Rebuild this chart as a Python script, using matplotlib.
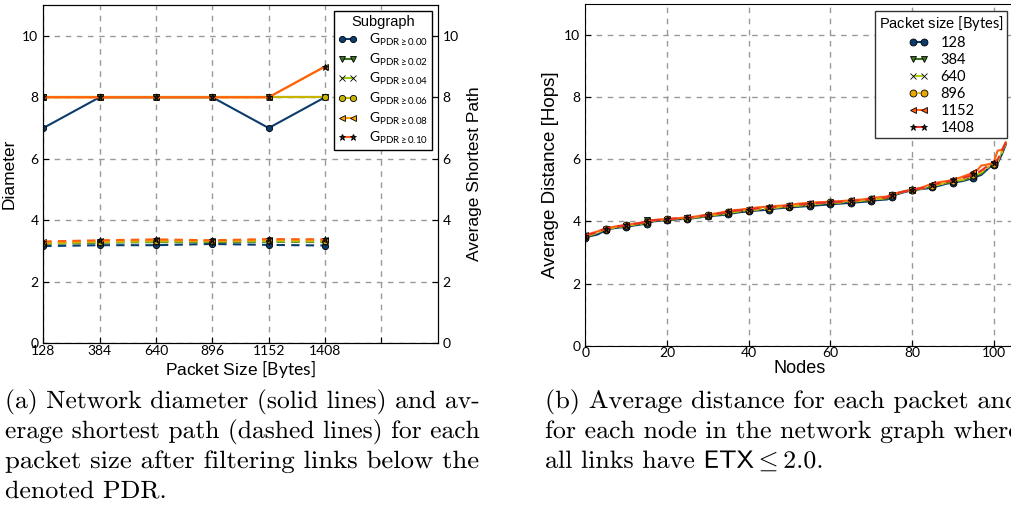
import numpy as np
import matplotlib
matplotlib.use("Agg")
import matplotlib.pyplot as plt
from matplotlib import patheffects
from matplotlib.transforms import Affine2D

plt.rcParams.update({
    "font.family": "Liberation Sans",
    "mathtext.fontset": "custom",
    "mathtext.rm": "Lato",
    "mathtext.it": "Lato:italic",
    "mathtext.bf": "Lato:bold",
    "mathtext.sf": "Lato",
})

# ---------------- data: left panel ----------------
packet_sizes = [128, 384, 640, 896, 1152, 1408]
pdr_thresholds = ["0.00", "0.02", "0.04", "0.06", "0.08", "0.10"]

diam_000 = [7, 8, 8, 8, 7, 8]
diam_002 = [8, 8, 8, 8, 8, 8]
diam_004 = [8, 8, 8, 8, 8, 8]
diam_006 = [8, 8, 8, 8, 8, 8]
diam_008 = [8, 8, 8, 8, 8, 9]
diam_010 = [8, 8, 8, 8, 8, 9]

asp_000 = [3.16, 3.19, 3.19, 3.23, 3.20, 3.18]
asp_002 = [3.23, 3.27, 3.29, 3.29, 3.30, 3.29]
asp_004 = [3.25, 3.29, 3.31, 3.31, 3.32, 3.31]
asp_006 = [3.27, 3.31, 3.34, 3.33, 3.35, 3.34]
asp_008 = [3.29, 3.33, 3.36, 3.34, 3.37, 3.36]
asp_010 = [3.31, 3.35, 3.38, 3.35, 3.39, 3.38]

# ---------------- data: right panel (sorted per-node average distance) ----------------
dist_128 = [3.48, 3.52, 3.55, 3.58, 3.65, 3.72, 3.76, 3.78, 3.80, 3.81,
            3.82, 3.85, 3.87, 3.89, 3.91, 3.93, 3.98, 4.01, 4.02, 4.03,
            4.04, 4.05, 4.06, 4.07, 4.08, 4.09, 4.10, 4.11, 4.13, 4.15,
            4.16, 4.18, 4.19, 4.20, 4.21, 4.23, 4.26, 4.28, 4.30, 4.31,
            4.33, 4.34, 4.35, 4.36, 4.37, 4.38, 4.40, 4.42, 4.43, 4.44,
            4.45, 4.46, 4.47, 4.48, 4.49, 4.50, 4.51, 4.52, 4.53, 4.54,
            4.55, 4.56, 4.57, 4.58, 4.59, 4.60, 4.61, 4.62, 4.63, 4.64,
            4.66, 4.68, 4.69, 4.70, 4.71, 4.80, 4.86, 4.90, 4.94, 4.97,
            5.00, 5.02, 5.04, 5.05, 5.07, 5.10, 5.13, 5.16, 5.20, 5.23,
            5.25, 5.27, 5.29, 5.32, 5.36, 5.40, 5.45, 5.50, 5.62, 5.74,
            5.82, 5.88, 6.15, 6.48]
dist_384 = [3.50, 3.54, 3.58, 3.62, 3.68, 3.74, 3.77, 3.79, 3.81, 3.83,
            3.85, 3.87, 3.89, 3.91, 3.93, 4.05, 4.03, 4.03, 4.04, 4.05,
            4.06, 4.06, 4.07, 4.08, 4.09, 4.10, 4.11, 4.12, 4.14, 4.16,
            4.18, 4.20, 4.21, 4.22, 4.23, 4.26, 4.28, 4.30, 4.32, 4.34,
            4.35, 4.36, 4.37, 4.38, 4.40, 4.42, 4.43, 4.44, 4.45, 4.46,
            4.48, 4.49, 4.50, 4.51, 4.52, 4.55, 4.56, 4.57, 4.57, 4.58,
            4.59, 4.60, 4.60, 4.61, 4.62, 4.63, 4.64, 4.65, 4.66, 4.67,
            4.69, 4.71, 4.72, 4.73, 4.74, 4.84, 4.88, 4.92, 4.96, 4.98,
            5.00, 5.02, 5.04, 5.06, 5.09, 5.13, 5.16, 5.19, 5.22, 5.25,
            5.28, 5.30, 5.32, 5.35, 5.39, 5.46, 5.50, 5.54, 5.66, 5.76,
            5.84, 5.92, 6.20, 6.50]
dist_640 = [3.52, 3.56, 3.60, 3.64, 3.70, 3.75, 3.78, 3.80, 3.82, 3.84,
            3.86, 3.88, 3.90, 3.92, 3.94, 3.97, 4.01, 4.03, 4.04, 4.05,
            4.06, 4.07, 4.08, 4.09, 4.10, 4.11, 4.12, 4.13, 4.15, 4.17,
            4.19, 4.21, 4.22, 4.23, 4.25, 4.27, 4.30, 4.32, 4.33, 4.35,
            4.36, 4.37, 4.38, 4.40, 4.41, 4.43, 4.44, 4.45, 4.46, 4.47,
            4.49, 4.50, 4.51, 4.52, 4.53, 4.55, 4.56, 4.57, 4.58, 4.59,
            4.60, 4.61, 4.61, 4.62, 4.63, 4.64, 4.65, 4.66, 4.67, 4.68,
            4.70, 4.72, 4.73, 4.74, 4.76, 4.85, 4.89, 4.93, 4.96, 4.98,
            5.00, 5.03, 5.05, 5.07, 5.10, 5.14, 5.17, 5.20, 5.23, 5.26,
            5.29, 5.31, 5.33, 5.36, 5.40, 5.47, 5.52, 5.58, 5.68, 5.77,
            5.85, 5.94, 6.22, 6.52]
dist_896 = [3.53, 3.57, 3.61, 3.65, 3.71, 3.76, 3.79, 3.81, 3.83, 3.85,
            3.87, 3.89, 3.91, 3.93, 3.95, 3.98, 4.02, 4.04, 4.05, 4.06,
            4.07, 4.08, 4.09, 4.10, 4.11, 4.12, 4.13, 4.14, 4.16, 4.18,
            4.20, 4.22, 4.23, 4.25, 4.27, 4.29, 4.31, 4.33, 4.35, 4.36,
            4.37, 4.38, 4.40, 4.41, 4.43, 4.44, 4.45, 4.46, 4.47, 4.48,
            4.50, 4.51, 4.52, 4.53, 4.54, 4.56, 4.57, 4.58, 4.59, 4.60,
            4.61, 4.62, 4.62, 4.63, 4.64, 4.65, 4.66, 4.67, 4.68, 4.69,
            4.71, 4.73, 4.74, 4.75, 4.77, 4.85, 4.89, 4.93, 4.96, 4.98,
            5.00, 5.03, 5.05, 5.08, 5.11, 5.15, 5.18, 5.21, 5.24, 5.27,
            5.30, 5.32, 5.35, 5.38, 5.42, 5.49, 5.54, 5.60, 5.70, 5.78,
            5.86, 5.95, 6.24, 6.53]
dist_1152 = [3.55, 3.60, 3.64, 3.68, 3.73, 3.77, 3.80, 3.83, 3.85, 3.87,
             3.89, 3.91, 3.93, 3.95, 3.97, 4.00, 4.03, 4.05, 4.06, 4.07,
             4.08, 4.09, 4.10, 4.11, 4.12, 4.13, 4.14, 4.16, 4.18, 4.20,
             4.22, 4.24, 4.26, 4.28, 4.31, 4.34, 4.36, 4.37, 4.38, 4.40,
             4.41, 4.43, 4.45, 4.46, 4.47, 4.48, 4.49, 4.50, 4.51, 4.52,
             4.53, 4.55, 4.57, 4.58, 4.59, 4.60, 4.61, 4.62, 4.62, 4.63,
             4.64, 4.65, 4.65, 4.66, 4.67, 4.68, 4.69, 4.70, 4.71, 4.73,
             4.75, 4.77, 4.78, 4.79, 4.81, 4.86, 4.90, 4.94, 4.97, 5.00,
             5.02, 5.05, 5.08, 5.12, 5.17, 5.22, 5.25, 5.27, 5.29, 5.31,
             5.34, 5.38, 5.42, 5.47, 5.52, 5.60, 5.65, 5.80, 5.82, 5.85,
             5.90, 6.28, 6.30, 6.55]
dist_1408 = [3.54, 3.58, 3.62, 3.66, 3.72, 3.76, 3.79, 3.82, 3.84, 3.86,
             3.88, 3.90, 3.92, 3.94, 3.96, 3.99, 4.02, 4.04, 4.05, 4.06,
             4.07, 4.08, 4.09, 4.10, 4.11, 4.12, 4.13, 4.15, 4.17, 4.19,
             4.21, 4.23, 4.24, 4.26, 4.28, 4.31, 4.33, 4.35, 4.36, 4.37,
             4.38, 4.40, 4.42, 4.43, 4.44, 4.45, 4.46, 4.47, 4.48, 4.49,
             4.51, 4.52, 4.54, 4.55, 4.56, 4.57, 4.58, 4.59, 4.60, 4.61,
             4.62, 4.63, 4.63, 4.64, 4.65, 4.66, 4.67, 4.68, 4.69, 4.70,
             4.72, 4.74, 4.75, 4.76, 4.78, 4.86, 4.89, 4.93, 4.96, 4.99,
             5.01, 5.04, 5.06, 5.09, 5.13, 5.18, 5.21, 5.23, 5.26, 5.29,
             5.32, 5.35, 5.38, 5.42, 5.46, 5.52, 5.56, 5.64, 5.74, 5.80,
             5.88, 6.00, 6.26, 6.54]

# ---------------- styles ----------------
pdr_colors = ["#0c3c6c", "#3b7423", "#9ccc10", "#c8b400", "#ffa000", "#ff6010"]
pdr_markers = ["o", "v", "x", "o", "<", "*"]
pdr_faces = ["#0c3c6c", "#3b7423", "#9ccc10", "#c8b400", "#ffa000", "#202020"]

size_colors = ["#0c3c6c", "#3b7423", "#b0d010", "#e8a800", "#ff6010", "#e8302a"]
size_markers = ["o", "v", "x", "o", "<", "*"]
size_styles = ["-", (0, (5, 3)), (0, (5, 2, 1, 2)), (0, (1, 1.5)), "-", (0, (5, 3))]
size_faces = ["#0c3c6c", "#3b7423", "#b0d010", "#e8a800", "#ff6010", "#202020"]

W, H = 1012, 518
fig = plt.figure(figsize=(W / 100, H / 100), dpi=100)

grid_kw = dict(color="#999999", linestyle=(0, (4, 4)), linewidth=1.0)


def px_axes(x0, y0, x1, y1):
    return fig.add_axes([x0 / W, 1 - y1 / H, (x1 - x0) / W, (y1 - y0) / H])


def style_ticks(ax):
    for lab in ax.get_xticklabels() + ax.get_yticklabels():
        lab.set_fontfamily("Lato")
        lab.set_fontsize(10)
    ax.tick_params(direction="in", length=4, width=0.8, colors="black")


# ---------------- left panel ----------------
ax1 = px_axes(43.3, 5, 437.7, 343.3)
ax1b = ax1.twinx()

diams = [diam_000, diam_002, diam_004, diam_006, diam_008, diam_010]
asps = [asp_000, asp_002, asp_004, asp_006, asp_008, asp_010]

for d, c, m, f, thr in zip(diams, pdr_colors, pdr_markers, pdr_faces, pdr_thresholds):
    ax1.plot(packet_sizes, d, color=c, lw=1.5, marker=m, ms=4.5,
             mfc=f, mec="black", mew=0.6,
             label=r"$\mathrm{G}_{\mathrm{PDR}\geq " + thr + "}$")
for a, c, m, f in zip(asps, pdr_colors, pdr_markers, pdr_faces):
    ax1b.plot(packet_sizes, a, color=c, lw=1.5, ls=(0, (4, 3)), marker=m, ms=4.5,
              mfc=f, mec="black", mew=0.6)

ax1.set_xlim(128, 1920)
ax1.set_ylim(0, 11)
ax1b.set_ylim(0, 11)
ax1.set_xticks([128, 384, 640, 896, 1152, 1408, 1664])
ax1.set_xticklabels(["128", "384", "640", "896", "1152", "1408", ""])
ax1.set_yticks([0, 2, 4, 6, 8, 10])
ax1b.set_yticks([0, 2, 4, 6, 8, 10])
ax1.grid(True, **grid_kw)
ax1.set_axisbelow(True)
style_ticks(ax1)
style_ticks(ax1b)
ax1.tick_params(axis="x", pad=1)

ax1.set_ylabel("Diameter", fontsize=12.5, labelpad=4)
ax1b.set_ylabel("Average Shortest Path", fontsize=12.5, labelpad=6)
ax1.set_xlabel(r"Packet Size $\mathrm{[Bytes]}$", fontsize=12.5, labelpad=1)

leg1 = ax1.legend(title="Subgraph", loc="upper right", fontsize=10, title_fontsize=10.5,
                  numpoints=2, handlelength=1.4, handletextpad=0.8,
                  borderaxespad=0.4, borderpad=0.3, labelspacing=0.25,
                  fancybox=False, edgecolor="black", framealpha=1)
leg1.get_frame().set_linewidth(1.0)

# ---------------- right panel ----------------
ax2 = px_axes(585.3, 4, 1014, 345.7)
series = [dist_128, dist_384, dist_640, dist_896, dist_1152, dist_1408]
for s, c, m, ls, f, p in zip(series, size_colors, size_markers, size_styles,
                              size_faces, packet_sizes):
    ax2.plot(np.arange(len(s)), s, color=c, lw=1.5, ls=ls, marker=m, ms=5,
             markevery=5, mfc=f, mec="black", mew=0.6, label=str(p))

ax2.set_xlim(0, 105)
ax2.set_ylim(0, 11)
ax2.set_xticks([0, 20, 40, 60, 80, 100])
ax2.set_yticks([0, 2, 4, 6, 8, 10])
ax2.grid(True, **grid_kw)
ax2.set_axisbelow(True)
style_ticks(ax2)
ax2.tick_params(axis="x", pad=1)
ax2.set_xlabel("Nodes", fontsize=13, labelpad=1)
ax2.set_ylabel("Average Distance [Hops]", fontsize=13.5, labelpad=4)

leg2 = ax2.legend(title=r"Packet size $\mathrm{[Bytes]}$", loc="upper right",
                  fontsize=10.5, title_fontsize=10.5, numpoints=2,
                  handlelength=1.4, handletextpad=0.8, borderaxespad=0.45,
                  borderpad=0.25, labelspacing=0.2, fancybox=False,
                  edgecolor="#333333", framealpha=1)
for t in leg2.get_texts():
    t.set_fontfamily("Lato")
leg2.get_frame().set_linewidth(1.0)


# ---------------- captions ----------------
class HStretch(patheffects.AbstractPathEffect):
    """Scale glyph outlines horizontally about a fixed display x position."""

    def __init__(self, sx, x0):
        super().__init__()
        self.sx = sx
        self.x0 = x0

    def draw_path(self, renderer, gc, tpath, affine, rgbFace=None):
        aff = affine + Affine2D().translate(-self.x0, 0).scale(self.sx, 1).translate(self.x0, 0)
        renderer.draw_path(gc, tpath, aff, rgbFace)


renderer = fig.canvas.get_renderer()
cap_size = 18


def caption_line(x, y, text, target=None, sx=None):
    t = fig.text(x / W, 1 - y / H, text, family="cmr10", fontsize=cap_size,
                 math_fontfamily="cm", va="baseline", ha="left")
    w = t.get_window_extent(renderer).width
    if target is not None:
        sx = target / w
    t.set_path_effects([HStretch(sx, x)])
    return sx


caption_a = ["(a) Network diameter (solid lines) and av-",
             "erage shortest path (dashed lines) for each",
             "packet size after filtering links below the",
             "denoted PDR."]
caption_b = ["(b) Average distance for each packet and",
             "for each node in the network graph where",
             r"all links have $\mathsf{ETX}\leq\mathsf{2.0}$."]

baselines = [408, 438, 468, 498]
col_w = 475
s1 = caption_line(5, baselines[0], caption_a[0], target=col_w)
s2 = caption_line(5, baselines[1], caption_a[1], target=col_w)
s3 = caption_line(5, baselines[2], caption_a[2], target=col_w)
s_avg = (s1 + s2 + s3) / 3
caption_line(5, baselines[3], caption_a[3], sx=s_avg)
caption_line(545, baselines[0], caption_b[0], target=col_w)
caption_line(545, baselines[1], caption_b[1], target=col_w)
caption_line(545, baselines[2], caption_b[2], sx=s_avg)

fig.savefig("out.png", dpi=100)
